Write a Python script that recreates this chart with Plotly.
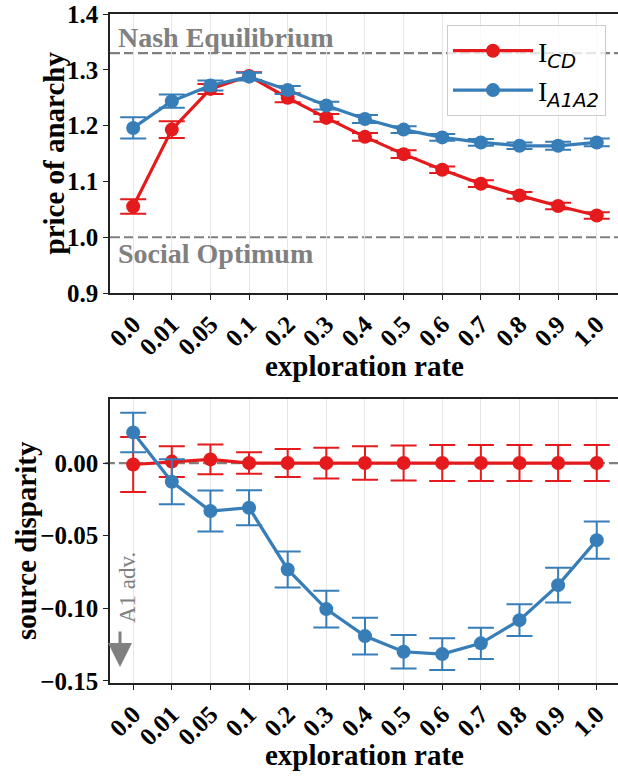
import plotly.graph_objects as go

categories = ["0.0", "0.01", "0.05", "0.1", "0.2", "0.3", "0.4", "0.5", "0.6", "0.7", "0.8", "0.9", "1.0"]

poa_cd = [1.055, 1.193, 1.266, 1.289, 1.250, 1.214, 1.180, 1.149, 1.121, 1.096, 1.075, 1.056, 1.039]
poa_cd_err = [0.013, 0.015, 0.009, 0.007, 0.008, 0.007, 0.007, 0.007, 0.006, 0.006, 0.006, 0.006, 0.006]
poa_a1a2 = [1.196, 1.244, 1.272, 1.288, 1.264, 1.236, 1.212, 1.193, 1.179, 1.170, 1.164, 1.164, 1.170]
poa_a1a2_err = [0.019, 0.012, 0.009, 0.007, 0.007, 0.007, 0.007, 0.006, 0.006, 0.006, 0.006, 0.007, 0.007]

sd_cd = [-0.001, 0.001, 0.0025, 0.0, 0.0, 0.0, 0.0, 0.0, 0.0, 0.0, 0.0, 0.0, 0.0]
sd_cd_err = [0.019, 0.0106, 0.0103, 0.0074, 0.0097, 0.0106, 0.0115, 0.012, 0.0124, 0.0124, 0.0124, 0.0124, 0.0124]
sd_a1a2 = [0.0211, -0.0129, -0.0331, -0.0308, -0.0733, -0.1006, -0.1192, -0.1300, -0.1316, -0.1242, -0.1082, -0.0841, -0.0531]
sd_a1a2_err = [0.0136, 0.0155, 0.0141, 0.012, 0.0124, 0.0127, 0.0126, 0.0115, 0.011, 0.0108, 0.0109, 0.0119, 0.0129]

nash_level = 1.33
social_level = 1.0

RED = "#e41a1c"
BLUE = "#377eb8"
GRAY = "#808080"
SERIF = "Liberation Serif"

W, H = 618, 778
def px(p):
    return p / W
def py(p):
    return 1 - p / H

xs = list(range(len(categories)))

fig = go.Figure()

def add_series(y, err, color, name, xa, ya, showlegend):
    fig.add_trace(go.Scatter(
        x=xs, y=y, name=name, mode="lines+markers",
        line=dict(color=color, width=3.2),
        marker=dict(color=color, size=14),
        error_y=dict(type="data", array=err, visible=True, color=color, thickness=2, width=13),
        xaxis=xa, yaxis=ya, showlegend=showlegend,
    ))

lab_cd = "I<sub><span style=\"font-family:DejaVu Sans;font-style:italic\">CD</span></sub>"
lab_a = "I<sub><span style=\"font-family:DejaVu Sans;font-style:italic\">A1A2</span></sub>"

add_series(poa_cd, poa_cd_err, RED, lab_cd, "x", "y", True)
add_series(poa_a1a2, poa_a1a2_err, BLUE, lab_a, "x", "y", True)
add_series(sd_cd, sd_cd_err, RED, lab_cd, "x2", "y2", False)
add_series(sd_a1a2, sd_a1a2_err, BLUE, lab_a, "x2", "y2", False)

top_dom = [py(293), py(14)]
bot_dom = [py(683), py(399)]

xcommon = dict(
    tickmode="array", tickvals=xs, ticktext=categories, tickangle=-45,
    range=[-0.6, 12.55], showgrid=True, gridcolor="#e6e6e6", gridwidth=1,
    showline=True, linecolor="#222222", linewidth=1.5, mirror=True,
    ticks="outside", ticklen=5, tickcolor="#222222",
    tickfont=dict(family=SERIF, size=25, color="black", weight="bold"),
    zeroline=False, domain=[px(110), 1.0], automargin=False,
    ticklabeloverflow="allow",
)
ycommon = dict(
    showgrid=False, showline=True, linecolor="#222222", linewidth=1.5, mirror=False,
    ticks="outside", ticklen=5, tickcolor="#222222",
    tickfont=dict(family=SERIF, size=25, color="black", weight="bold"),
    zeroline=False, automargin=False, ticklabeloverflow="allow",
)

fig.update_layout(
    width=W, height=H,
    margin=dict(l=0, r=0, t=0, b=0, autoexpand=False),
    plot_bgcolor="white", paper_bgcolor="white",
    xaxis=dict(**xcommon, anchor="y"),
    xaxis2=dict(**xcommon, anchor="y2"),
    yaxis=dict(**ycommon, domain=top_dom, range=[0.9, 1.4003], anchor="x",
               tickvals=[0.9, 1.0, 1.1, 1.2, 1.3, 1.4], ticktext=["0.9", "1.0", "1.1", "1.2", "1.3", "1.4"]),
    yaxis2=dict(**ycommon, domain=bot_dom, range=[-0.1515, 0.0441], anchor="x2",
                tickvals=[-0.15, -0.10, -0.05, 0.0], ticktext=["\u22120.15", "\u22120.10", "\u22120.05", "0.00"]),
    showlegend=True,
    legend=dict(
        x=px(606), y=py(25), xanchor="right", yanchor="top",
        bgcolor="rgba(255,255,255,0.8)", bordercolor="#cccccc", borderwidth=1,
        font=dict(family=SERIF, size=28, color="black"),
        itemwidth=80, tracegroupgap=0,
    ),
)

# reference lines
for yv in (nash_level, social_level):
    fig.add_shape(type="line", xref="x domain", yref="y", x0=0, x1=1, y0=yv, y1=yv,
                  line=dict(color=GRAY, width=2.2, dash="10px,4px"), layer="below")
fig.add_shape(type="line", xref="x2 domain", yref="y2", x0=-0.01, x1=1, y0=0, y1=0,
              line=dict(color=GRAY, width=2.2, dash="10px,4px"), layer="below")

# texts
fig.add_annotation(text="Nash Equilibrium", xref="x domain", yref="y", x=0.012, y=nash_level,
                   xanchor="left", yanchor="bottom", showarrow=False, yshift=-2,
                   font=dict(family=SERIF, size=28, color=GRAY, weight="bold"))
fig.add_annotation(text="Social Optimum", xref="x domain", yref="y", x=0.012, y=social_level,
                   xanchor="left", yanchor="top", showarrow=False, yshift=1,
                   font=dict(family=SERIF, size=28, color=GRAY, weight="bold"))

fig.add_annotation(text="price of anarchy", xref="paper", yref="y domain", x=px(53), y=0.5,
                   textangle=-90, showarrow=False, xanchor="center", yanchor="middle",
                   font=dict(family=SERIF, size=29, color="black", weight="bold"))
fig.add_annotation(text="source disparity", xref="paper", yref="y2 domain", x=px(26), y=0.5,
                   textangle=-90, showarrow=False, xanchor="center", yanchor="middle",
                   font=dict(family=SERIF, size=29, color="black", weight="bold"))
fig.add_annotation(text="exploration rate", xref="x domain", yref="paper", x=0.5, y=py(366),
                   showarrow=False, xanchor="center", yanchor="middle",
                   font=dict(family=SERIF, size=29, color="black", weight="bold"))
fig.add_annotation(text="exploration rate", xref="x2 domain", yref="paper", x=0.5, y=py(755),
                   showarrow=False, xanchor="center", yanchor="middle",
                   font=dict(family=SERIF, size=29, color="black", weight="bold"))

# A1 adv. arrow + label
fig.add_annotation(text="", xref="paper", yref="paper", x=px(120), y=py(667),
                   ax=0, ay=-37, showarrow=True, arrowhead=2, arrowsize=1.6, arrowwidth=3,
                   arrowcolor=GRAY)
fig.add_annotation(text="A1 adv.", xref="paper", yref="paper", x=px(127), y=py(588),
                   textangle=-90, showarrow=False, xanchor="center", yanchor="middle",
                   font=dict(family=SERIF, size=23, color=GRAY))

fig.write_html("out.html", config={"displayModeBar": False},
               post_script="document.body.style.margin='0';document.body.style.overflow='hidden';")
